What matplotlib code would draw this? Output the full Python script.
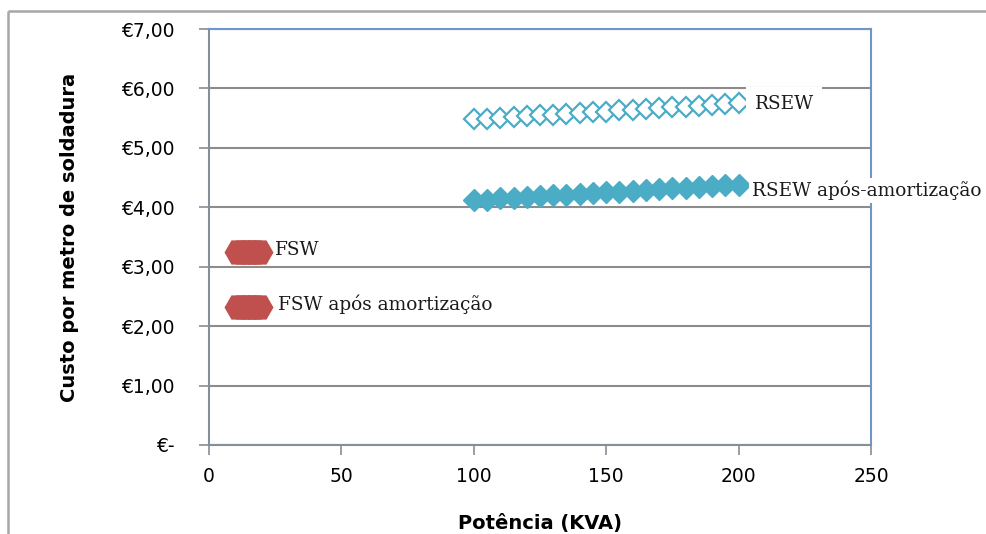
'''Custo por metro de soldadura vs potencia: RSEW and FSW.'''

import matplotlib
matplotlib.use('Agg')
import matplotlib.pyplot as plt
from matplotlib.lines import Line2D

# data
rsew_x = [100, 105, 110, 115, 120, 125, 130, 135, 140, 145, 150,
          155, 160, 165, 170, 175, 180, 185, 190, 195, 200]
rsew_cost = [5.48, 5.49, 5.51, 5.52, 5.53, 5.55, 5.56, 5.57, 5.59, 5.60, 5.61,
             5.63, 5.64, 5.65, 5.67, 5.68, 5.69, 5.71, 5.72, 5.73, 5.75]
rsew_amort = [4.12, 4.13, 4.15, 4.16, 4.17, 4.19, 4.20, 4.21, 4.22, 4.24, 4.25,
              4.26, 4.28, 4.29, 4.30, 4.32, 4.33, 4.34, 4.35, 4.37, 4.38]
fsw_x = [11, 13, 15, 17, 19]
fsw_cost = [3.25, 3.25, 3.25, 3.25, 3.25]
fsw_amort = [2.32, 2.32, 2.32, 2.32, 2.32]

y_ticks = [0, 1, 2, 3, 4, 5, 6, 7]
y_ticklabels = ['€-', '€1,00', '€2,00', '€3,00', '€4,00', '€5,00', '€6,00', '€7,00']
x_ticks = [0, 50, 100, 150, 200, 250]

blue = '#4BACC6'
red = '#C0504D'
gridc = '#8c8c8c'

plt.rcParams['font.family'] = ['DejaVu Sans']

fig = plt.figure(figsize=(9.87, 5.34), dpi=100)
# outer chart frame: only its top and left edges show
fx, fy = 8 / 987, (534 - 11) / 534
fig.add_artist(Line2D([fx, 1.02], [fy, fy], transform=fig.transFigure,
                      color='#a6a6a6', linewidth=1.8, solid_capstyle='butt'))
fig.add_artist(Line2D([fx, fx], [-0.02, fy], transform=fig.transFigure,
                      color='#a6a6a6', linewidth=1.8, solid_capstyle='butt'))

ax = fig.add_axes([209 / 987, 89 / 534, 662 / 987, 416 / 534])

ax.plot(rsew_x, rsew_cost, color=blue, linewidth=2, marker='D', markersize=10.5,
        markerfacecolor='white', markeredgecolor=blue, markeredgewidth=1.6, zorder=3)
ax.plot(rsew_x, rsew_amort, color=blue, linewidth=2, marker='D', markersize=11.5,
        markerfacecolor=blue, markeredgecolor=blue, zorder=3)
ax.plot(fsw_x, fsw_cost, linestyle='none', marker='H', markersize=19,
        color=red, zorder=3)
ax.plot(fsw_x, fsw_amort, linestyle='none', marker='H', markersize=19,
        color=red, zorder=3)

serif = dict(family=['DejaVu Serif'], fontsize=13.3,
             color='#1a1a1a', va='center', ha='left', clip_on=False, zorder=5)
ax.text(206, 5.74, 'RSEW', bbox=dict(facecolor='white', edgecolor='none', pad=6), **serif)
ax.text(205, 4.29, 'RSEW após-amortização',
        bbox=dict(facecolor='white', edgecolor='none', pad=2), **serif)
ax.text(25, 3.28, 'FSW', **serif)
ax.text(26, 2.37, 'FSW após amortização', **serif)

ax.set_xlim(0, 250)
ax.set_ylim(0, 7)
ax.set_xticks(x_ticks)
ax.set_yticks(y_ticks)
ax.set_yticklabels(y_ticklabels)
ax.yaxis.grid(True, color=gridc, linewidth=1.5)
ax.set_axisbelow(True)

for side in ['left', 'bottom']:
    ax.spines[side].set_color('#868e9a')
    ax.spines[side].set_linewidth(1.5)
for side in ['top', 'right']:
    ax.spines[side].set_color('#6f95cc')
    ax.spines[side].set_linewidth(1.5)

ax.tick_params(axis='both', direction='out', length=7, width=1.2,
               color='#868e9a', labelsize=13.5)
ax.tick_params(axis='y', pad=18)
ax.tick_params(axis='x', pad=9)

ax.set_xlabel('Potência (KVA)', fontsize=14, fontweight='bold', labelpad=20)
ax.set_ylabel('Custo por metro de soldadura', fontsize=14, fontweight='bold', labelpad=30)

fig.savefig('out.png', dpi=100)
